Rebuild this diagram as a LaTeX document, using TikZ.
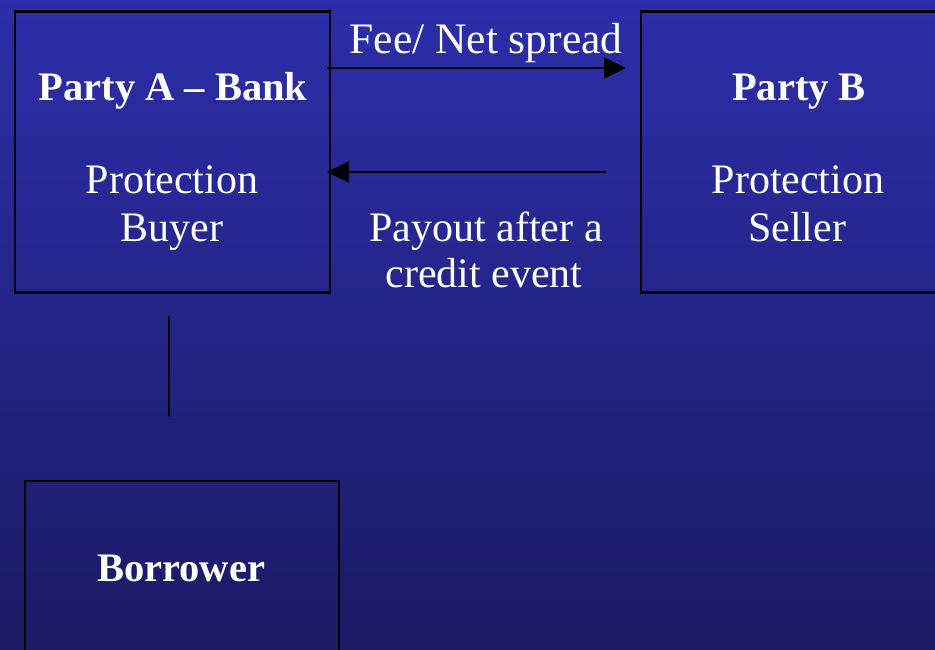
\documentclass[tikz,border=0pt]{standalone}
\usepackage{fontspec}
\setmainfont{Liberation Serif}
\usetikzlibrary{arrows.meta}
\definecolor{bgtop}{RGB}{44,46,170}
\definecolor{bgbottom}{RGB}{27,26,100}
\tikzset{
  partybox/.style={draw=black, line width=2.6pt, minimum width=#1, minimum height=281pt, inner sep=0pt},
  label/.style={text=white, font=\fontsize{42}{48}\selectfont, align=center, inner sep=0pt},
  title/.style={label, font=\fontsize{40.5}{48}\selectfont\bfseries},
  flow/.style={draw=black, line width=2pt, -{Triangle[length=22pt,width=21pt]}},
  link/.style={draw=black, line width=2pt}
}
\begin{document}
\begin{tikzpicture}[x=1pt, y=-1pt]
  % page area and shaded background
  \useasboundingbox (0,0) rectangle (935,649);
  \shade[top color=bgtop, bottom color=bgbottom] (0,0) rectangle (935,649);

  % the three parties
  \node[partybox=315pt] (A) at (172.5,152) {};
  \node[partybox=314pt] (B) at (798,152) {};
  \node[partybox=314pt, minimum height=174pt] (C) at (182,568) {};

  \node[title, anchor=base] (Atitle) at (173,100) {Party A -- Bank};
  \node[label, anchor=base] (Arole1) at (172,193) {Protection};
  \node[label, anchor=base] (Arole2) at (172,241) {Buyer};

  \node[title, anchor=base] (Btitle) at (799,100) {Party B};
  \node[label, anchor=base] (Brole1) at (798,193) {Protection};
  \node[label, anchor=base] (Brole2) at (797,241) {Seller};

  \node[title, anchor=base] (Ctitle) at (181,581) {Borrower};

  % payment flows between the parties
  \coordinate (feeStart) at (327,68);
  \coordinate (feeEnd) at (626,68);
  \coordinate (payStart) at (606,172);
  \coordinate (payEnd) at (327,172);
  \draw[flow] (feeStart) -- (feeEnd);
  \draw[flow] (payStart) -- (payEnd);

  \node[label, anchor=base, font=\fontsize{43.5}{48}\selectfont] (fee) at (486,53) {Fee/ Net spread};
  \node[label, anchor=base] (pay1) at (486,241) {Payout after a};
  \node[label, anchor=base] (pay2) at (484,287) {credit event};

  % bank to borrower link
  \coordinate (linkTop) at (169,316);
  \coordinate (linkBottom) at (169,417);
  \draw[link] (linkTop) -- (linkBottom);
\end{tikzpicture}
\end{document}
